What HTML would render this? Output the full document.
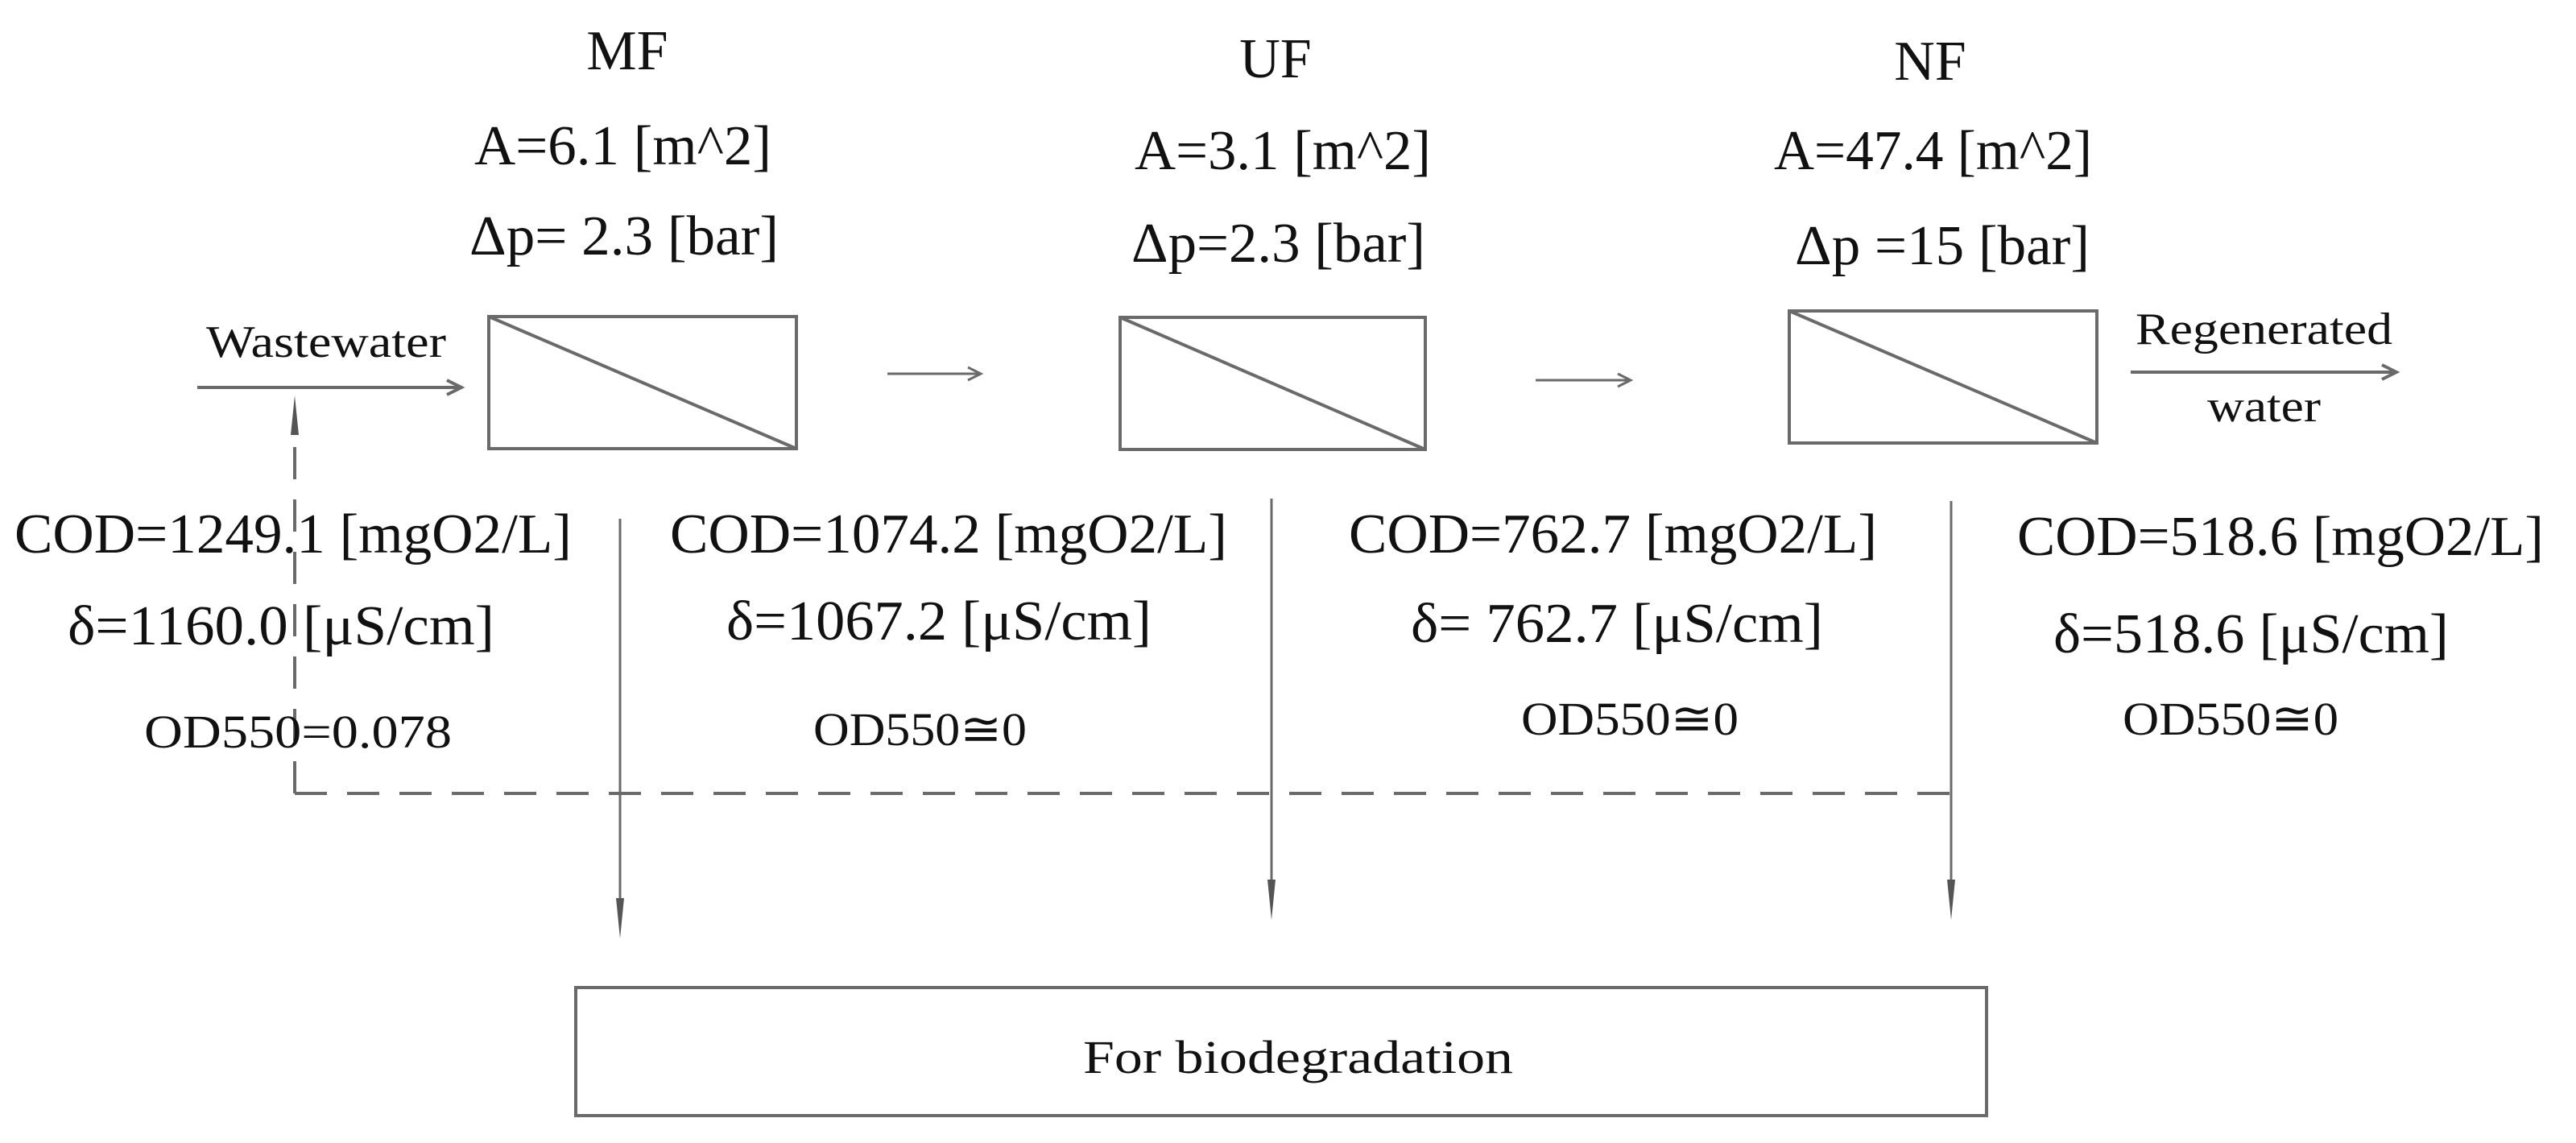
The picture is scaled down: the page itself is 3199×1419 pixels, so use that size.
<!DOCTYPE html>
<html><head><meta charset="utf-8"><style>html,body{margin:0;padding:0;background:#fff}svg{display:block}</style></head>
<body>
<svg width="3199" height="1419" viewBox="0 0 3199 1419" xmlns="http://www.w3.org/2000/svg" font-family="'Liberation Serif', serif" fill="#111">
<g stroke="#6a6a6a" stroke-width="4" fill="none">
<rect x="607" y="393" width="382" height="164"/>
<line x1="607" y1="393" x2="989" y2="557"/>
<rect x="1391" y="394" width="379" height="164"/>
<line x1="1391" y1="394" x2="1770" y2="558"/>
<rect x="2222" y="386" width="382" height="164"/>
<line x1="2222" y1="386" x2="2604" y2="550"/>
<rect x="715" y="1226" width="1752" height="159"/>
<line x1="245" y1="481" x2="572" y2="481"/>
<polyline points="555,472 573,481 555,490"/>
<line x1="1102" y1="464" x2="1217" y2="464" stroke-width="3"/>
<polyline points="1202,456 1218,464 1202,472" stroke-width="3"/>
<line x1="1907" y1="472" x2="2024" y2="472" stroke-width="3"/>
<polyline points="2009,464 2025,472 2009,480" stroke-width="3"/>
<line x1="2646" y1="462" x2="2975" y2="462"/>
<polyline points="2958,453 2976,462 2958,471"/>
<line x1="366" y1="985" x2="366" y2="520" stroke-dasharray="40 25"/>
<line x1="366" y1="985" x2="2423" y2="985" stroke-dasharray="40 25"/>
<line x1="770" y1="644" x2="770" y2="1130" stroke-width="3"/>
<line x1="1579" y1="619" x2="1579" y2="1110" stroke-width="3"/>
<line x1="2423" y1="622" x2="2423" y2="1110" stroke-width="3"/>
</g>
<g fill="#555">
<polygon points="361,540 366,491 371,540"/>
<polygon points="765,1115 770,1165 775,1115"/>
<polygon points="1574,1092 1579,1142 1584,1092"/>
<polygon points="2418,1092 2423,1142 2428,1092"/>
</g>
<g font-size="70">
<text x="779" y="86" text-anchor="middle">MF</text>
<text x="1584" y="96" text-anchor="middle">UF</text>
<text x="2397" y="99" text-anchor="middle">NF</text>
<text x="589" y="204" textLength="369" lengthAdjust="spacingAndGlyphs">A=6.1 [m^2]</text>
<text x="583" y="316" textLength="384" lengthAdjust="spacingAndGlyphs">Δp= 2.3 [bar]</text>
<text x="1409" y="210" textLength="368" lengthAdjust="spacingAndGlyphs">A=3.1 [m^2]</text>
<text x="1405" y="325" textLength="365" lengthAdjust="spacingAndGlyphs">Δp=2.3 [bar]</text>
<text x="2203" y="210" textLength="395" lengthAdjust="spacingAndGlyphs">A=47.4 [m^2]</text>
<text x="2229" y="328" textLength="366" lengthAdjust="spacingAndGlyphs">Δp =15 [bar]</text>
<text x="18" y="686" textLength="692" lengthAdjust="spacingAndGlyphs">COD=1249.1 [mgO2/L]</text>
<text x="84" y="800" textLength="530" lengthAdjust="spacingAndGlyphs">δ=1160.0 [μS/cm]</text>
<text x="832" y="686" textLength="692" lengthAdjust="spacingAndGlyphs">COD=1074.2 [mgO2/L]</text>
<text x="902" y="794" textLength="528" lengthAdjust="spacingAndGlyphs">δ=1067.2 [μS/cm]</text>
<text x="1675" y="686" textLength="656" lengthAdjust="spacingAndGlyphs">COD=762.7 [mgO2/L]</text>
<text x="1752" y="797" textLength="512" lengthAdjust="spacingAndGlyphs">δ= 762.7 [μS/cm]</text>
<text x="2505" y="689" textLength="654" lengthAdjust="spacingAndGlyphs">COD=518.6 [mgO2/L]</text>
<text x="2550" y="810" textLength="491" lengthAdjust="spacingAndGlyphs">δ=518.6 [μS/cm]</text>
</g>
<g font-size="58">
<text x="179" y="928" textLength="382" lengthAdjust="spacingAndGlyphs">OD550=0.078</text>
<text x="1010" y="925" textLength="265" lengthAdjust="spacingAndGlyphs">OD550≅0</text>
<text x="1889" y="912" textLength="270" lengthAdjust="spacingAndGlyphs">OD550≅0</text>
<text x="2636" y="912" textLength="268" lengthAdjust="spacingAndGlyphs">OD550≅0</text>
<text x="1345" y="1332" textLength="534" lengthAdjust="spacingAndGlyphs">For biodegradation</text>
</g>
<g font-size="56">
<text x="256" y="443" textLength="298" lengthAdjust="spacingAndGlyphs">Wastewater</text>
<text x="2652" y="427" textLength="319" lengthAdjust="spacingAndGlyphs">Regenerated</text>
<text x="2741" y="523" textLength="141" lengthAdjust="spacingAndGlyphs">water</text>
</g>
</svg>
</body></html>
